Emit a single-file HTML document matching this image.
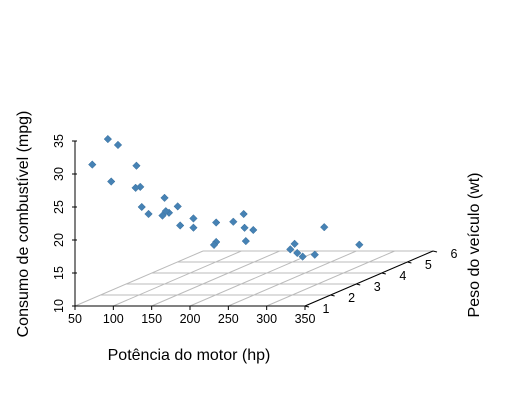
<!DOCTYPE html>
<html><head><meta charset="utf-8"><style>
html,body{margin:0;padding:0;background:#fff;}
svg{display:block;font-family:"Liberation Sans",sans-serif;}
</style></head><body>
<svg id="chart" width="513" height="414" viewBox="0 0 513 414">
<g id="grid"></g>
<g id="axes"></g>
<g id="pts"></g>
<text x="189" y="360" font-size="16" text-anchor="middle">Potência do motor (hp)</text>
<text transform="translate(28,224) rotate(-90)" font-size="16" text-anchor="middle">Consumo de combustível (mpg)</text>
<text transform="translate(479,245) rotate(-90)" font-size="16" text-anchor="middle">Peso do veículo (wt)</text>
</svg>
<script>
const hp=[110,110,93,110,175,105,245,62,95,123,123,180,180,180,205,215,230,66,52,65,97,150,150,245,175,66,91,113,264,175,335,109];
const wt=[2.620,2.875,2.320,3.215,3.440,3.460,3.570,3.190,3.150,3.440,3.440,4.070,3.730,3.780,5.250,5.424,5.345,2.200,1.615,1.835,2.465,3.520,3.435,3.840,3.845,1.935,2.140,1.513,3.170,2.770,3.570,2.780];
const mpg=[21.0,21.0,22.8,21.4,18.7,18.1,14.3,24.4,22.8,19.2,17.8,16.4,17.3,15.2,10.4,10.4,14.7,32.4,30.4,33.9,21.5,15.5,15.2,13.3,19.2,27.3,26.0,30.4,15.8,19.7,15.0,21.4];
const xTicks=[50,100,150,200,250,300,350];
const yTicks=[1,2,3,4,5,6];
const zTicks=[10,15,20,25,30,35];
const NS="http://www.w3.org/2000/svg";
function px(h,w){return 75+(h-50)*0.7667+(w-1)*25.6;}
function py(m,w){return 306-(m-10)*6.6-(w-1)*11;}
function mk(t,a,p){const e=document.createElementNS(NS,t);for(const k in a)e.setAttribute(k,a[k]);p.appendChild(e);return e;}
const grid=document.getElementById('grid'),axes=document.getElementById('axes'),pts=document.getElementById('pts');
xTicks.forEach(h=>{
  const l=mk('line',{x1:px(h,1),y1:py(10,1),x2:px(h,6),y2:py(10,6),stroke:'#bbb','stroke-width':1},grid);
  
  
  const t=mk('line',{x1:px(h,1),y1:306,x2:px(h,1),y2:310,stroke:'#000'},axes);
  
  
  const tx=mk('text',{x:px(h,1),y:323,'font-size':12.5,'text-anchor':'middle'},axes);tx.textContent=h;
  
  
});
yTicks.forEach(w=>{
  if(w>1){const l=mk('line',{x1:px(50,w),y1:py(10,w),x2:px(350,w),y2:py(10,w),stroke:'#bbb'},grid);
  
  }
  const t=mk('line',{x1:px(350,w),y1:py(10,w),x2:px(350,w)+4,y2:py(10,w)+1,stroke:'#000'},axes);
  
  
  const tx=mk('text',{x:px(350,w)+21,y:py(10,w)+7,'font-size':12.5,'text-anchor':'middle'},axes);tx.textContent=w;
  
  
});
zTicks.forEach(m=>{
  const t=mk('line',{x1:72,y1:py(m,1),x2:77,y2:py(m,1),stroke:'#000'},axes);
  
  
  const tx=mk('text',{transform:'translate(63,'+py(m,1)+') rotate(-90)','font-size':12.5,'text-anchor':'middle'},axes);tx.textContent=m;
  
  
});
let a=mk('line',{x1:75,y1:306,x2:305,y2:306,stroke:'#000'},axes);

a=mk('line',{x1:305,y1:306,x2:px(350,6),y2:py(10,6),stroke:'#000'},axes);

a=mk('line',{x1:75,y1:306,x2:75,y2:141,stroke:'#000'},axes);

for(let i=0;i<hp.length;i++){
  const x=px(hp[i],wt[i]),y=py(mpg[i],wt[i]);
  const d=mk('polygon',{points:(x)+','+(y-3.8)+' '+(x+3.8)+','+y+' '+x+','+(y+3.8)+' '+(x-3.8)+','+y,fill:'#4682b4',stroke:'#3a6f9c','stroke-width':0.5},pts);
  
  
}
</script>
</body></html>
